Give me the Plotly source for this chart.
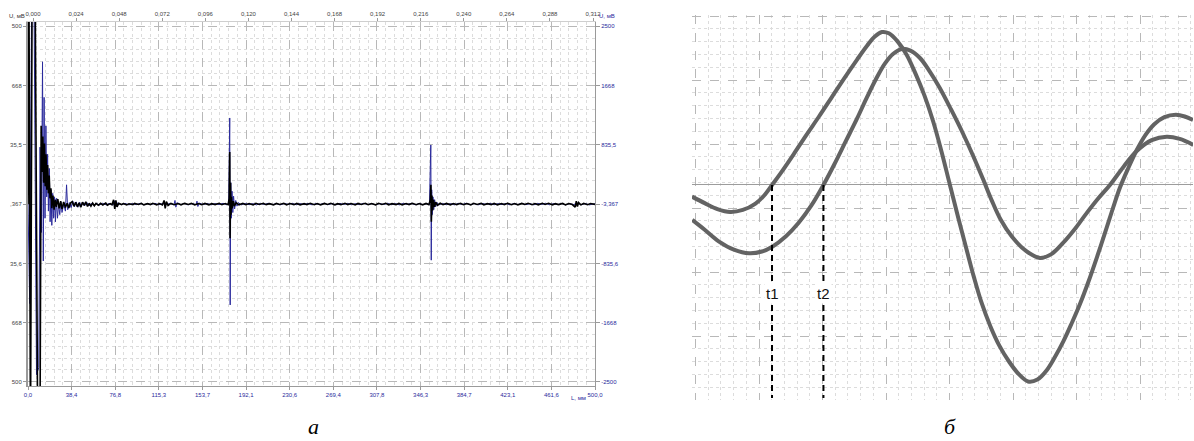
import plotly.graph_objects as go

# ---------------- data: panel "а" (L in mm, U in mV) ----------------
L_TICKS = [0.0, 38.4, 76.8, 115.3, 153.7, 192.1, 230.6, 269.4, 307.8, 346.3, 384.7, 423.1, 461.6, 500.0]
L_TICK_POS = [i * 500 / 13 for i in range(14)]
T_TICKS = ["0,000", "0,024", "0,048", "0,072", "0,096", "0,120", "0,144", "0,168",
           "0,192", "0,216", "0,240", "0,264", "0,288", "0,312"]
T_TICK_VALS = [0.0, 0.024, 0.048, 0.072, 0.096, 0.120, 0.144, 0.168, 0.192, 0.216, 0.240, 0.264, 0.288, 0.312]
U_TICK_VALS = [2500, 1668, 835.5, -3.367, -835.6, -1668, -2500]
U_TICKS_RIGHT = ["2500", "1668", "835,5", "-3,367", "-835,6", "-1668", "-2500"]
U_TICKS_LEFT_VISIBLE = ["500", "668", "35,5", ",367", "35,6", "668", "500"]

BLACK_SIGNAL = [
    (0.0, 0), (0.8, 3200), (2.2, -3300), (3.6, 2900), (6.2, 3300), (8.6, -3300), (10.6, -3100),
    (11.6, 1100), (12.4, 450), (13.1, 950), (13.8, 300), (14.5, 850), (15.2, 250), (15.9, 700),
    (16.6, 200), (17.3, 550), (18.0, 150), (18.7, 400), (19.4, 80), (20.2, 220), (21.0, -60),
    (22.0, 120), (23.0, -80), (24.0, 60), (25.0, -40), (26.3, 70), (27.5, -60), (28.8, 40),
    (30.0, -70), (31.5, 30), (33.0, -50), (34.5, 10), (36.0, -55), (37.5, 15), (39.0, 35),
    (40.5, -30), (42.0, 25), (43.5, -40), (45.0, 15), (46.5, -45), (48.0, 25), (49.5, -20),
    (51.0, 30), (52.5, -35), (54.0, 10), (55.5, -30), (57.0, 12), (58.5, -25), (60.0, 8),
    (62.0, -18), (64.0, 10), (66.0, -14), (68.5, 12), (70.0, -16), (72.5, 6), (74.0, -10),
    (75.5, 60), (76.5, -70), (77.5, 50), (78.5, -40), (80.0, 10), (82.5, -8), (84.0, 6),
    (87.0, -12), (89.0, 4), (92.5, -9), (94.0, 8), (97.5, -6), (100.0, 10), (102.0, -12),
    (105.5, 5), (108.0, -8), (110.0, 9), (113.5, -11), (116.0, 6), (118.5, -14), (120.0, 50),
    (121.0, -60), (122.0, 35), (123.5, -20), (126.0, 8), (129.0, -10), (132.5, 6), (135.0, -12),
    (138.0, 9), (141.5, -7), (144.0, 10), (147.0, -12), (150.5, 6), (153.0, -9), (156.0, 8),
    (159.5, -12), (162.0, 5), (165.0, -8), (168.5, 10), (171.0, -10), (174.0, 6), (176.5, -10),
    (177.4, 80), (177.9, 730), (178.2, -480), (178.6, 300), (179.0, -150), (179.5, 100),
    (180.0, -60), (181.0, 40), (182.0, -30), (183.5, 18), (186.0, -12), (189.5, 8), (192.0, -10),
    (195.0, 6), (198.5, -12), (201.0, 9), (204.0, -7), (207.5, 10), (210.0, -9), (213.0, 5),
    (216.5, -12), (219.0, 8), (222.0, -6), (225.5, 10), (228.0, -11), (231.0, 6), (234.5, -9),
    (237.0, 8), (240.0, -12), (243.5, 5), (246.0, -8), (249.0, 10), (252.5, -10), (255.0, 6),
    (258.0, -12), (261.5, 8), (264.0, -6), (267.0, 9), (270.5, -11), (273.0, 5), (276.0, -9),
    (279.5, 10), (282.0, -8), (285.0, 6), (288.5, -12), (291.0, 8), (294.0, -7), (297.5, 10),
    (300.0, -10), (303.0, 6), (306.5, -12), (309.0, 9), (312.0, -6), (315.5, 10), (318.0, -11),
    (321.0, 5), (324.5, -9), (327.0, 8), (330.0, -12), (333.5, 6), (336.0, -8), (339.0, 10),
    (342.5, -10), (345.0, 6), (348.0, -12), (351.0, 8), (353.5, -10), (354.8, 60), (355.3, 270),
    (355.7, -250), (356.2, 120), (356.8, -90), (357.5, 60), (358.5, -40), (359.5, 25), (361.0, -18),
    (363.5, 10), (366.0, -9), (369.0, 8), (372.5, -12), (375.0, 6), (378.0, -8), (381.5, 10),
    (384.0, -10), (387.0, 6), (390.5, -12), (393.0, 9), (396.0, -6), (399.5, 10), (402.0, -11),
    (405.0, 5), (408.5, -9), (411.0, 8), (414.0, -12), (417.5, 6), (420.0, -8), (423.0, 10),
    (426.5, -10), (429.0, 6), (432.0, -12), (435.5, 8), (438.0, -7), (441.0, 10), (444.5, -10),
    (447.0, 6), (450.0, -12), (453.5, 9), (456.0, -6), (459.0, 10), (462.5, -11), (465.0, 5),
    (468.0, -9), (471.5, 8), (474.0, -12), (477.0, 6), (480.0, -8), (482.5, -45), (483.5, 40),
    (484.5, -35), (485.5, 20), (487.5, -12), (490.0, 8), (493.5, -10), (496.0, 6), (500.0, -5),
]

BLUE_SIGNAL = [
    (0.0, 0), (1.5, -1400), (3.2, 2900), (5.3, 2900), (7.5, -2400), (9.5, -2300), (10.6, 800),
    (11.8, -400), (12.8, 2000), (13.5, -800), (14.2, 1500), (15.0, -200), (15.8, 1100), (16.5, 100),
    (17.3, 700), (18.0, -100), (18.8, 500), (19.5, -250), (20.3, 200), (21.0, -300), (21.8, 150),
    (22.6, -200), (23.4, 100), (24.2, -250), (25.0, 80), (26.0, -200), (27.0, 0), (28.0, -150),
    (29.0, 30), (30.0, -120), (31.5, 0), (33.0, -100), (34.0, 270), (35.0, -80), (36.5, 20),
    (38.0, -50), (39.5, 40), (41.0, -40), (42.5, 30), (44.0, -45), (45.5, 25), (47.0, -35),
    (48.5, 25), (50.0, -25), (52.0, 20), (54.0, -28), (56.0, 12), (58.0, -22), (60.0, 12),
    (63.0, -15), (65.5, 10), (69.0, -12), (71.5, 8), (75.0, -14), (76.5, 45), (77.5, -40),
    (79.0, 15), (82.0, -10), (85.5, 8), (89.0, -12), (92.0, 6), (95.5, -9), (99.0, 10),
    (102.5, -12), (105.0, 6), (108.5, -8), (112.0, 10), (115.0, -11), (118.5, 6), (122.0, -9),
    (125.0, 8), (128.8, -12), (129.6, 50), (130.4, -45), (131.5, 18), (134.5, -10), (138.0, 8),
    (141.0, -12), (144.5, 6), (148.3, -10), (149.0, 40), (149.8, -35), (151.0, 14), (154.5, -9),
    (158.0, 8), (161.5, -12), (165.0, 6), (168.5, -8), (172.0, 10), (175.0, -10), (177.0, 8),
    (177.9, 1210), (178.3, -1420), (178.8, 300), (179.3, -200), (179.9, 180), (180.6, -120),
    (181.3, 110), (182.2, -70), (183.2, 50), (184.3, -30), (185.5, 20), (188.0, -12), (191.5, 8),
    (195.0, -10), (198.0, 6), (201.5, -12), (205.0, 9), (208.5, -7), (212.0, 10), (215.5, -9),
    (219.0, 5), (222.5, -12), (226.0, 8), (229.5, -6), (233.0, 10), (236.5, -11), (240.0, 6),
    (243.5, -9), (247.0, 8), (250.5, -12), (254.0, 5), (257.5, -8), (261.0, 10), (264.5, -10),
    (268.0, 6), (271.5, -12), (275.0, 8), (278.5, -6), (282.0, 9), (285.5, -11), (289.0, 5),
    (292.5, -9), (296.0, 10), (299.5, -8), (303.0, 6), (306.5, -12), (310.0, 8), (313.5, -7),
    (317.0, 10), (320.5, -10), (324.0, 6), (327.5, -12), (331.0, 9), (334.5, -6), (338.0, 10),
    (341.5, -11), (345.0, 5), (348.5, -9), (352.0, 8), (354.0, -10), (355.2, 830), (355.6, -790),
    (356.0, 200), (356.5, -150), (357.1, 100), (357.8, -80), (358.6, 60), (359.5, -40),
    (360.5, 25), (362.0, -15), (365.5, 8), (369.0, -10), (372.5, 6), (376.0, -12), (379.5, 9),
    (383.0, -7), (386.5, 10), (390.0, -10), (393.5, 6), (397.0, -12), (400.5, 8), (404.0, -6),
    (407.5, 10), (411.0, -11), (414.5, 5), (418.0, -9), (421.5, 8), (425.0, -12), (428.5, 6),
    (432.0, -8), (435.5, 10), (439.0, -10), (442.5, 6), (446.0, -12), (449.5, 9), (453.0, -6),
    (456.5, 10), (460.0, -11), (463.5, 5), (467.0, -9), (470.5, 8), (474.0, -12), (477.5, 6),
    (481.0, -8), (484.5, 10), (488.0, -10), (491.5, 6), (495.0, -12), (500.0, 4),
]

# ---------------- data: panel "б" (time and amplitude in grid cells) ----------------
WAVE_1 = [
    (0.00, -0.91), (1.00, -1.42), (2.00, -1.88), (3.00, -2.11), (4.00, -1.95), (5.00, -1.45),
    (5.70, -0.80), (6.30, 0.00), (7.00, 0.95), (8.00, 2.40), (9.00, 3.90), (10.00, 5.35),
    (11.00, 6.85), (12.00, 8.35), (13.00, 9.80), (13.80, 10.90), (14.40, 11.60), (14.96, 11.95),
    (15.50, 11.85), (16.20, 11.20), (16.91, 10.16), (17.60, 8.70), (18.30, 7.00), (18.98, 5.00),
    (19.65, 2.60), (20.31, 0.00), (21.00, -2.70), (21.63, -5.08), (22.20, -7.20), (22.80, -9.20),
    (23.50, -11.05), (24.20, -12.55), (25.00, -13.85), (25.75, -14.80), (26.46, -15.35),
    (27.20, -15.20), (27.95, -14.45), (28.60, -13.40), (29.25, -12.20), (29.90, -10.80),
    (30.55, -9.30), (31.20, -7.60), (31.89, -5.63), (32.50, -3.80), (33.15, -1.80), (33.70, -0.20),
    (34.30, 1.20), (35.02, 2.73), (35.70, 3.90), (36.40, 4.75), (37.20, 5.30), (38.10, 5.48),
    (38.80, 5.35), (39.45, 5.08),
]
WAVE_2 = [
    (0.02, -2.73), (1.00, -3.50), (2.10, -4.40), (3.30, -5.05), (4.50, -5.34), (5.50, -5.20),
    (6.32, -4.82), (7.40, -4.00), (8.40, -2.95), (9.40, -1.60), (10.35, 0.00), (11.20, 1.60),
    (12.10, 3.40), (13.00, 5.20), (13.80, 6.90), (14.50, 8.30), (15.20, 9.50), (15.85, 10.25),
    (16.51, 10.63), (17.20, 10.50), (17.95, 9.92), (18.70, 8.90), (19.50, 7.60), (20.40, 5.90),
    (21.30, 4.10), (22.15, 2.25), (22.94, 0.40), (23.60, -1.20), (24.30, -2.70), (25.20, -4.05),
    (26.30, -5.15), (27.40, -5.70), (28.30, -5.40), (29.20, -4.55), (30.10, -3.50),
    (31.00, -2.30), (31.95, -1.10), (32.91, 0.00), (34.00, 1.45), (35.02, 2.65), (36.20, 3.50),
    (37.38, 3.77), (38.40, 3.60), (39.47, 3.13),
]
T_MARKS = [6.30, 10.35]
T_LABELS = ["t1", "t2"]

# ---------------- layout helpers ----------------
W, H = 1194, 441


def px(x):
    return x / W


def py(y):
    return 1 - y / H


BLUE = "#2a2a9c"
AX_GRAY = "#9a9a9a"
MAJ_GRID = "#b8b8b8"
MIN_GRID = "#dcdcdc"
TICK_FONT = dict(family="Liberation Sans", size=6, color="#444444")
BLUE_FONT = dict(family="Liberation Sans", size=6, color=BLUE)

U_RANGE = [-2560, 2560]
X3_RANGE = [0, 39.45]
Y3_RANGE = [-16.8, 13.28]

fig = go.Figure()

fig.add_trace(go.Scatter(
    x=[p[0] for p in BLUE_SIGNAL], y=[p[1] for p in BLUE_SIGNAL],
    mode="lines", line=dict(color=BLUE, width=1), xaxis="x", yaxis="y",
    hoverinfo="skip", showlegend=False))
fig.add_trace(go.Scatter(
    x=[p[0] for p in BLACK_SIGNAL], y=[p[1] for p in BLACK_SIGNAL],
    mode="lines", line=dict(color="#000000", width=1.6), xaxis="x", yaxis="y",
    hoverinfo="skip", showlegend=False))
# invisible trace so that the top (time) and right (blue) axes are drawn
fig.add_trace(go.Scatter(
    x=[T_TICK_VALS[0], T_TICK_VALS[-1]], y=[U_TICK_VALS[-1], U_TICK_VALS[0]],
    mode="markers", marker=dict(opacity=0, size=1), xaxis="x2", yaxis="y2",
    hoverinfo="skip", showlegend=False))

# panel б
for wave in (WAVE_2, WAVE_1):
    fig.add_trace(go.Scatter(
        x=[p[0] for p in wave], y=[p[1] for p in wave], mode="lines",
        line=dict(color="#636363", width=4, shape="spline", smoothing=1.0),
        xaxis="x3", yaxis="y3", hoverinfo="skip", showlegend=False))
for t in T_MARKS:
    fig.add_trace(go.Scatter(
        x=[t, t], y=[0, Y3_RANGE[0] + 0.15], mode="lines",
        line=dict(color="#000000", width=2, dash="6px,4px"),
        xaxis="x3", yaxis="y3", hoverinfo="skip", showlegend=False))

annotations = []
for t, lab in zip(T_MARKS, T_LABELS):
    annotations.append(dict(x=t, y=-8.45, xref="x3", yref="y3", text=lab, showarrow=False,
                            font=dict(family="Liberation Sans", size=15, color="#111111"),
                            bgcolor="#ffffff", borderpad=1))

annotations += [
    dict(x=px(27), y=py(16), xref="paper", yref="paper", text="U, мВ", showarrow=False,
         xanchor="right", yanchor="middle", font=dict(family="Liberation Sans", size=6, color="#333333")),
    dict(x=px(597), y=py(16), xref="paper", yref="paper", text="U, мВ", showarrow=False,
         xanchor="left", yanchor="middle", font=dict(family="Liberation Sans", size=6, color=BLUE)),
    dict(x=px(578), y=py(398), xref="paper", yref="paper", text="L, мм", showarrow=False,
         xanchor="center", yanchor="middle", font=dict(family="Liberation Sans", size=6, color=BLUE)),
    dict(x=px(313), y=py(426), xref="paper", yref="paper", text="<i>а</i>", showarrow=False,
         xanchor="center", yanchor="middle", font=dict(family="Liberation Serif", size=22, color="#000000")),
    dict(x=px(950), y=py(426), xref="paper", yref="paper", text="<i>б</i>", showarrow=False,
         xanchor="center", yanchor="middle", font=dict(family="Liberation Serif", size=22, color="#000000")),
]

left_dom = [px(28), px(595)]
left_ydom = [py(386), py(22)]

fig.update_layout(
    width=W, height=H, margin=dict(l=0, r=0, t=0, b=0, autoexpand=False),
    paper_bgcolor="#ffffff", plot_bgcolor="#ffffff", showlegend=False,
    annotations=annotations,
    xaxis=dict(domain=left_dom, range=[0, 500], anchor="y", automargin=False,
               tickmode="array", tickvals=L_TICK_POS, ticktext=[f"{v:.1f}".replace(".", ",") for v in L_TICKS],
               tickfont=BLUE_FONT, ticks="outside", ticklen=3, tickcolor=AX_GRAY,
               showline=True, linecolor=AX_GRAY, linewidth=1, mirror=False,
               showgrid=True, gridcolor=MAJ_GRID, griddash="dash", gridwidth=1, zeroline=False,
               minor=dict(dtick=500 / 65, tick0=0, showgrid=True, gridcolor=MIN_GRID, griddash="dot", gridwidth=1)),
    yaxis=dict(domain=left_ydom, range=U_RANGE, anchor="x", automargin=False,
               tickmode="array", tickvals=U_TICK_VALS, ticktext=U_TICKS_LEFT_VISIBLE,
               tickfont=TICK_FONT, ticks="outside", ticklen=3, tickcolor=AX_GRAY,
               showline=True, linecolor=AX_GRAY, linewidth=2,
               showgrid=True, gridcolor=MAJ_GRID, griddash="dash", gridwidth=1, zeroline=False,
               minor=dict(dtick=5000 / 30, tick0=-2500, showgrid=True, gridcolor=MIN_GRID, griddash="dot", gridwidth=1)),
    xaxis2=dict(overlaying="x", side="top", anchor="y2", range=[-0.00279, 0.31311], automargin=False,
                tickmode="array", tickvals=T_TICK_VALS, ticktext=T_TICKS, tickfont=TICK_FONT,
                ticks="outside", ticklen=3, tickcolor=AX_GRAY,
                showline=True, linecolor="#cfcfcf", linewidth=1, showgrid=False, zeroline=False),
    yaxis2=dict(overlaying="y", side="right", anchor="x2", range=U_RANGE, automargin=False,
                tickmode="array", tickvals=U_TICK_VALS, ticktext=U_TICKS_RIGHT, tickfont=BLUE_FONT,
                ticks="outside", ticklen=4, tickcolor=AX_GRAY,
                showline=True, linecolor=AX_GRAY, linewidth=1, showgrid=False, zeroline=False),
    xaxis3=dict(domain=[px(692), px(1193)], range=X3_RANGE, anchor="y3", automargin=False,
                showticklabels=False, ticks="", showline=False, zeroline=False,
                tickmode="linear", tick0=0.28, dtick=5,
                showgrid=True, gridcolor=MAJ_GRID, griddash="dash", gridwidth=1,
                minor=dict(tick0=0.28, dtick=1, showgrid=True, gridcolor=MIN_GRID, griddash="dot", gridwidth=1)),
    yaxis3=dict(domain=[py(400), py(15)], range=Y3_RANGE, anchor="x3", automargin=False,
                showticklabels=False, ticks="", showline=False,
                tickmode="linear", tick0=-1.8, dtick=5,
                showgrid=True, gridcolor=MAJ_GRID, griddash="dash", gridwidth=1,
                zeroline=True, zerolinecolor="#9c9c9c", zerolinewidth=1,
                minor=dict(tick0=-1.8, dtick=1, showgrid=True, gridcolor=MIN_GRID, griddash="dot", gridwidth=1)),
)

fig.write_html("out.html", config={"displayModeBar": False, "staticPlot": True},
               post_script="document.body.style.margin='0px';document.body.style.overflow='hidden';")
